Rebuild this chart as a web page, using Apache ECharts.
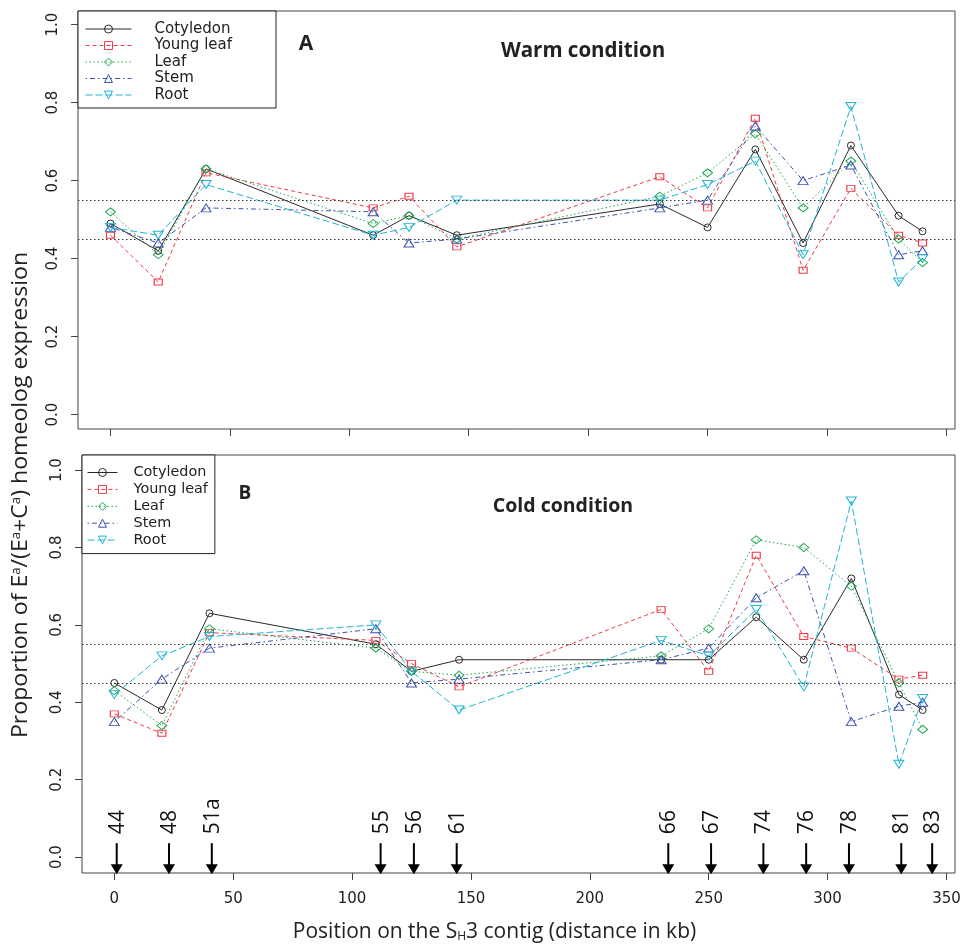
<!DOCTYPE html>
<html>
<head>
<meta charset="utf-8">
<script src="https://cdn.jsdelivr.net/npm/echarts@6/dist/echarts.min.js"></script>
<style>
html,body{margin:0;padding:0;background:#fff;}
#chart{width:966px;height:945px;}
</style>
</head>
<body>
<div id="chart"></div>
<script>
// ---- data ----
const seriesNames = ['Cotyledon', 'Young leaf', 'Leaf', 'Stem', 'Root'];
const xPos = [0, 20, 40, 110, 125, 145, 230, 250, 270, 290, 310, 330, 340];

const warmCotyledon = [0.49, 0.42, 0.63, 0.46, 0.51, 0.46, 0.54, 0.48, 0.68, 0.44, 0.69, 0.51, 0.47];
const warmYoungLeaf = [0.46, 0.34, 0.62, 0.53, 0.56, 0.43, 0.61, 0.53, 0.76, 0.37, 0.58, 0.46, 0.44];
const warmLeaf      = [0.52, 0.41, 0.63, 0.49, 0.51, 0.45, 0.56, 0.62, 0.72, 0.53, 0.65, 0.45, 0.39];
const warmStem      = [0.48, 0.44, 0.53, 0.52, 0.44, 0.45, 0.53, 0.55, 0.74, 0.60, 0.64, 0.41, 0.42];
const warmRoot      = [0.48, 0.46, 0.59, 0.46, 0.48, 0.55, 0.55, 0.59, 0.65, 0.41, 0.79, 0.34, 0.40];

const coldCotyledon = [0.45, 0.38, 0.63, 0.55, 0.48, 0.51, 0.51, 0.51, 0.62, 0.51, 0.72, 0.42, 0.38];
const coldYoungLeaf = [0.37, 0.32, 0.58, 0.56, 0.50, 0.44, 0.64, 0.48, 0.78, 0.57, 0.54, 0.46, 0.47];
const coldLeaf      = [0.43, 0.34, 0.59, 0.54, 0.48, 0.47, 0.52, 0.59, 0.82, 0.80, 0.70, 0.45, 0.33];
const coldStem      = [0.35, 0.46, 0.54, 0.59, 0.45, 0.46, 0.51, 0.54, 0.67, 0.74, 0.35, 0.39, 0.40];
const coldRoot      = [0.42, 0.52, 0.57, 0.60, 0.48, 0.38, 0.56, 0.52, 0.64, 0.44, 0.92, 0.24, 0.41];

const refLines = [0.45, 0.55];
const xTicks = [0, 50, 100, 150, 200, 250, 300, 350];
const yTicks = [0, 0.2, 0.4, 0.6, 0.8, 1.0];

const arrowPos    = [1, 23, 41, 112, 126, 144, 233, 251, 273, 291, 309, 331, 344];
const arrowLabels = ['44', '48', '51a', '55', '56', '61', '66', '67', '74', '76', '78', '81', '83'];

// ---- styles ----
const styles = {
  'Cotyledon':  {color: '#2a2a2a', symbol: 'circle', size: 7, dash: 'solid'},
  'Young leaf': {color: '#ee3a46', symbol: 'rect', size: [8, 6], dash: [4, 3]},
  'Leaf':       {color: '#1ca84f', symbol: 'diamond', size: [10, 8], dash: [1.5, 2.5]},
  'Stem':       {color: '#3d52ae', symbol: 'triangle', size: [10, 8], dash: [1.5, 3, 5, 3]},
  'Root':       {color: '#20b4d4', symbol: 'path://M0,0L2,0L1,1.6Z', size: [10, 8], dash: [7, 3]}
};

function makeSeries(name, values, idx) {
  const s = styles[name];
  const ser = {
    name: name,
    type: 'line',
    xAxisIndex: idx,
    yAxisIndex: idx,
    data: xPos.map((x, i) => [x, values[i]]),
    symbol: s.symbol,
    symbolSize: s.size,
    showAllSymbol: true,
    itemStyle: {color: 'transparent', borderColor: s.color, borderWidth: 1},
    lineStyle: {color: s.color, width: 1, type: s.dash},
    emphasis: {disabled: true},
    z: 3
  };
  if (name === 'Cotyledon') {
    ser.markLine = {
      silent: true,
      symbol: ['none', 'none'],
      label: {show: false},
      lineStyle: {color: '#333', width: 1, type: [1.5, 2.5]},
      data: refLines.map(v => ({yAxis: v}))
    };
  }
  return ser;
}

const warmData = [warmCotyledon, warmYoungLeaf, warmLeaf, warmStem, warmRoot];
const coldData = [coldCotyledon, coldYoungLeaf, coldLeaf, coldStem, coldRoot];

const series = [];
seriesNames.forEach((n, i) => series.push(makeSeries(n, warmData[i], 0)));
seriesNames.forEach((n, i) => series.push(makeSeries(n, coldData[i], 1)));

series.push({
  type: 'custom',
  xAxisIndex: 1,
  yAxisIndex: 1,
  silent: true,
  data: arrowPos.map((p, i) => [p, i]),
  renderItem: function (params, api) {
    const x = api.value(0);
    const label = arrowLabels[api.value(1)];
    const p0 = api.coord([x, 0]);
    const top = p0[1] - 14;
    const tip = p0[1] + 17;
    return {
      type: 'group',
      children: [
        {type: 'line', shape: {x1: p0[0], y1: top, x2: p0[0], y2: tip - 8},
         style: {stroke: '#000', lineWidth: 2}},
        {type: 'polygon', shape: {points: [[p0[0] - 6, tip - 10], [p0[0] + 6, tip - 10], [p0[0], tip]]},
         style: {fill: '#000'}},
        {type: 'text', x: p0[0] + 1, y: top - 9, rotation: Math.PI / 2,
         style: {text: label, fontFamily: 'Open Sans', fontSize: 21, fill: '#111',
                 align: 'left', verticalAlign: 'middle'}}
      ]
    };
  },
  z: 4
});

function xAxisCfg(idx, showLabels) {
  return {
    type: 'value', gridIndex: idx, min: -13.6, max: 353.6,
    axisLine: {show: false, onZero: false},
    splitLine: {show: false},
    axisTick: {show: true, inside: false, length: 7, lineStyle: {color: '#444'}, customValues: xTicks},
    axisLabel: {show: showLabels, customValues: xTicks, margin: 19,
                fontFamily: 'DejaVu Sans', fontSize: 15, color: '#222'}
  };
}
function yAxisCfg(idx, min, max) {
  return {
    type: 'value', gridIndex: idx, min: min, max: max,
    axisLine: {show: false, onZero: false},
    splitLine: {show: false},
    axisTick: {show: true, inside: false, length: 7, lineStyle: {color: '#444'}, customValues: yTicks},
    axisLabel: {show: true, customValues: yTicks, rotate: 90, margin: 17,
                fontFamily: 'DejaVu Sans', fontSize: 15, color: '#222',
                formatter: v => v.toFixed(1)}
  };
}

const xB = xAxisCfg(1, true);
xB.name = 'Position on the S{sub|H}3 contig (distance in kb)';
xB.nameLocation = 'middle';
xB.nameGap = 49;
xB.nameTextStyle = {
  fontFamily: 'Open Sans', fontSize: 21, color: '#222',
  padding: [0, 48, 0, 0],
  rich: {sub: {fontFamily: 'Open Sans', fontSize: 12, color: '#222', verticalAlign: 'bottom', lineHeight: 8}}
};

function legendCfg(left, top, itemWidth, fontSize, gap, pad, textPadLeft) {
  return {
    left: left, top: top, orient: 'vertical',
    data: seriesNames,
    itemWidth: itemWidth, itemHeight: 10, itemGap: gap,
    padding: pad,
    borderColor: '#222', borderWidth: 1, backgroundColor: '#fff',
    selectedMode: false,
    lineStyle: {width: 1},
    itemStyle: {borderWidth: 1},
    textStyle: {fontFamily: 'DejaVu Sans', fontSize: fontSize, color: '#222', lineHeight: 16,
                padding: [0, 0, 0, textPadLeft]}
  };
}

const option = {
  animation: false,
  backgroundColor: '#fff',
  grid: [
    {left: 78, top: 11, width: 877, height: 418, show: true, borderColor: '#444', borderWidth: 1, backgroundColor: 'transparent'},
    {left: 82, top: 455, width: 873, height: 418, show: true, borderColor: '#444', borderWidth: 1, backgroundColor: 'transparent'}
  ],
  xAxis: [xAxisCfg(0, false), xB],
  yAxis: [yAxisCfg(0, -0.037, 1.035), yAxisCfg(1, -0.041, 1.039)],
  legend: [
    legendCfg(78, 11, 46, 15, 0.5, [10, 44, 5, 7], 18),
    legendCfg(82, 455, 30, 14.4, 0.9, [9.5, 7, 5.5, 5], 11)
  ],
  graphic: [
    {type: 'text', x: 306, y: 44, z: 10,
     style: {text: 'A', fontFamily: 'Open Sans', fontWeight: 'bold', fontSize: 21, fill: '#222', align: 'center', verticalAlign: 'middle'}},
    {type: 'text', x: 583, y: 51, z: 10,
     style: {text: 'Warm condition', fontFamily: 'Open Sans', fontWeight: 'bold', fontSize: 20.5, fill: '#222', align: 'center', verticalAlign: 'middle'}},
    {type: 'text', x: 245, y: 494, z: 10,
     style: {text: 'B', fontFamily: 'Open Sans', fontWeight: 'bold', fontSize: 19, fill: '#222', align: 'center', verticalAlign: 'middle'}},
    {type: 'text', x: 563, y: 506, z: 10,
     style: {text: 'Cold condition', fontFamily: 'Open Sans', fontWeight: 'bold', fontSize: 19.5, fill: '#222', align: 'center', verticalAlign: 'middle'}},
    {type: 'text', x: 21, y: 495, rotation: Math.PI / 2, scaleX: 1.1, z: 10,
     style: {text: 'Proportion of E{sup|a}/(E{sup|a}+C{sup|a}) homeolog expression',
             fontFamily: 'Open Sans', fontSize: 21, fill: '#222', align: 'center', verticalAlign: 'middle',
             rich: {sup: {fontFamily: 'Open Sans', fontSize: 12, fill: '#222', verticalAlign: 'top', lineHeight: 8}}}}
  ],
  series: series
};

const chart = echarts.init(document.getElementById('chart'), null, {renderer: 'canvas'});
chart.setOption(option);
</script>
</body>
</html>
